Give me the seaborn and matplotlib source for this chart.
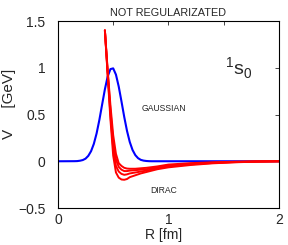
import numpy as np
import pandas as pd
import matplotlib
matplotlib.use("Agg")
import matplotlib.pyplot as plt
import seaborn as sns

# Gaussian-regularized potential (blue)
r_gauss = [0.0, 0.150, 0.175, 0.200, 0.225, 0.250, 0.275, 0.300, 0.325, 0.350,
           0.375, 0.400, 0.425, 0.450, 0.475, 0.500, 0.525, 0.550, 0.575,
           0.600, 0.625, 0.650, 0.675, 0.700, 0.725, 0.750, 0.775, 0.800,
           0.825, 0.850, 2.0]
v_gauss = [0.0, 0.001, 0.002, 0.006, 0.013, 0.028, 0.058, 0.108, 0.186, 0.298,
           0.442, 0.607, 0.770, 0.906, 0.986, 0.994, 0.927, 0.800, 0.640,
           0.474, 0.325, 0.206, 0.121, 0.066, 0.033, 0.015, 0.007, 0.003,
           0.001, 0.0003, 0.0]

# Dirac (not regularized) potentials, four red curves (deepest first)
r_dirac = [0.425, 0.45, 0.475, 0.5, 0.525, 0.55, 0.575, 0.6, 0.625, 0.65,
           0.7, 0.75, 0.8, 0.9, 1.0, 1.2, 1.4, 1.6, 1.8, 2.0]
v_dirac_1 = [1.40, 0.92, 0.45, 0.06, -0.12, -0.175, -0.195, -0.198, -0.19,
             -0.17, -0.15, -0.13, -0.115, -0.085, -0.065, -0.04, -0.022,
             -0.011, -0.004, 0.0]
v_dirac_2 = [1.40, 0.94, 0.50, 0.14, -0.05, -0.11, -0.135, -0.145, -0.14,
             -0.13, -0.12, -0.11, -0.10, -0.075, -0.055, -0.033, -0.018,
             -0.009, -0.003, 0.0]
v_dirac_3 = [1.40, 0.96, 0.55, 0.21, 0.02, -0.06, -0.09, -0.105, -0.105,
             -0.10, -0.095, -0.09, -0.085, -0.065, -0.045, -0.027, -0.015,
             -0.007, -0.003, 0.0]
v_dirac_4 = [1.40, 0.98, 0.60, 0.28, 0.08, -0.02, -0.05, -0.07, -0.078,
             -0.08, -0.08, -0.075, -0.07, -0.055, -0.035, -0.02, -0.011,
             -0.005, -0.002, 0.0]

y_ticks = [-0.5, 0, 0.5, 1, 1.5]
y_tick_labels = ["\u22120.5", "0", "0.5", "1", "1.5"]
x_ticks = [0, 1, 2]

sns.set_style("white")
plt.rcParams["font.family"] = ["Liberation Sans", "DejaVu Sans"]
plt.rcParams["mathtext.fontset"] = "custom"
plt.rcParams["mathtext.rm"] = "Liberation Sans"

dirac = pd.concat([
    pd.DataFrame({"R": r_dirac, "V": v, "curve": name})
    for name, v in [("d1", v_dirac_1), ("d2", v_dirac_2),
                    ("d3", v_dirac_3), ("d4", v_dirac_4)]
])
gauss = pd.DataFrame({"R": r_gauss, "V": v_gauss})

fig = plt.figure(figsize=(2.88, 2.45), dpi=100)
ax = fig.add_axes([0.201, 0.151, 0.768, 0.763])

sns.lineplot(data=gauss, x="R", y="V", color="#0000ff", lw=1.5, ax=ax,
             sort=False, estimator=None)
sns.lineplot(data=dirac, x="R", y="V", hue="curve",
             palette=["#ff0000"] * 4, lw=1.4, ax=ax, legend=False,
             sort=False, estimator=None)

ax.set_xlim(0, 2)
ax.set_ylim(-0.5, 1.5)
ax.set_xticks(x_ticks)
ax.set_xticks([0.5, 1.5], minor=True)
ax.set_yticks(y_ticks)
ax.set_yticklabels(y_tick_labels)
ax.tick_params(which="both", direction="in", top=True, right=True,
               labelsize=10, length=3, width=0.6)
ax.tick_params(axis="x", pad=3.5)
ax.tick_params(axis="y", pad=9)
for s in ax.spines.values():
    s.set_linewidth(0.8)
    s.set_color("black")

ax.set_xlabel("R [fm]", fontsize=10)
ax.set_ylabel("V     [GeV]", fontsize=11)
ax.xaxis.set_label_coords(0.477, -0.107)
ax.yaxis.set_label_coords(-0.19, 0.556)
ax.set_title("NOT REGULARIZATED", fontsize=7.8, pad=4)

ax.text(0.96, 0.56, "GAUSSIAN", fontsize=6.2, ha="center", va="center")
ax.text(0.96, -0.31, "DIRAC", fontsize=6.2, ha="center", va="center")
ax.text(1.51, 1.0, r"$^{1}\mathrm{s}_{0}$", fontsize=14, ha="left",
        va="center")

fig.savefig("out.png", dpi=100)
